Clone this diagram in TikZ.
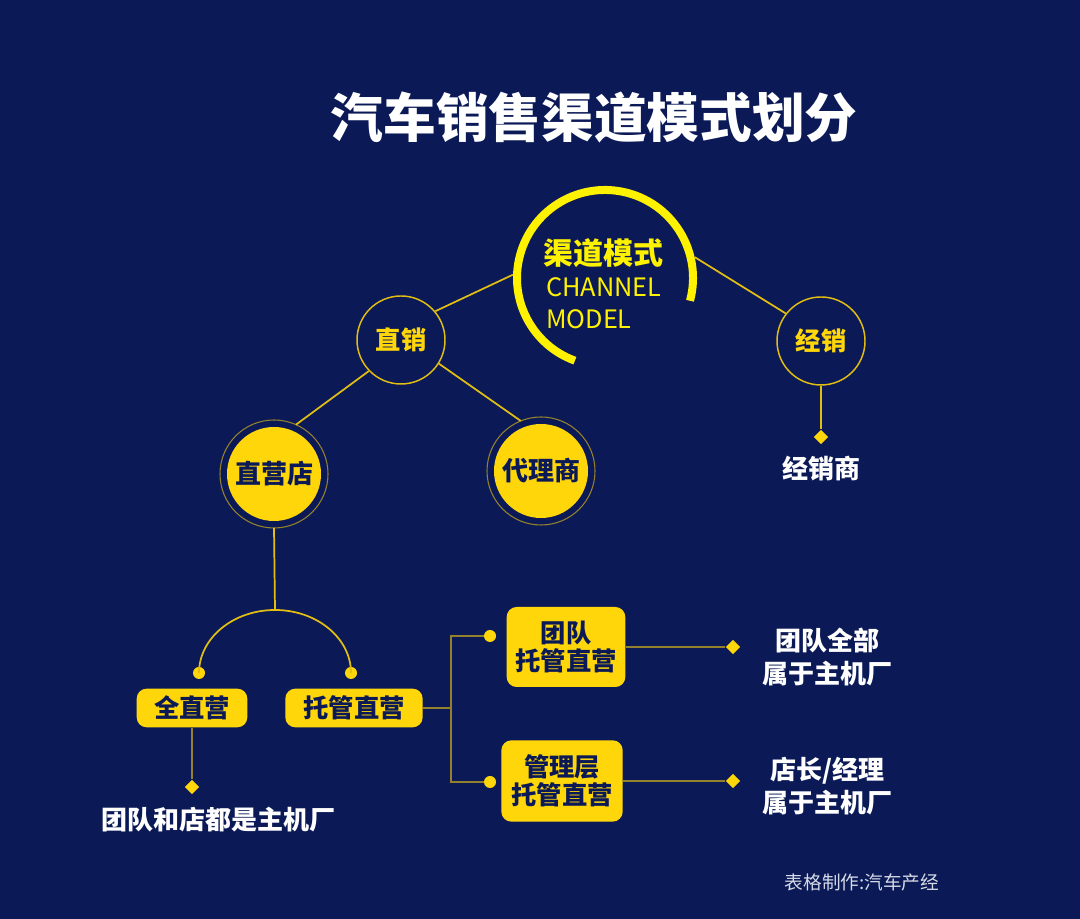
\documentclass[tikz,border=0pt]{standalone}
\usepackage{fontspec}
\usetikzlibrary{shapes.geometric}
\newfontfamily\cjk{Noto Sans CJK SC}
\definecolor{navy}{HTML}{0B1A57}
\definecolor{gold}{HTML}{FFD60A}
\definecolor{lemon}{HTML}{FFF200}
\definecolor{linegold}{HTML}{E2BE12}
\definecolor{olive}{HTML}{93812C}
\definecolor{footgray}{HTML}{D6DAE6}
\tikzset{
  ring/.style={circle, draw=linegold, line width=1.1pt, fill=navy, minimum size=66pt, inner sep=0pt,
    text=gold, font=\cjk\bfseries\fontsize{19pt}{22pt}\selectfont},
  disc/.style={circle, fill=gold, minimum size=70.5pt, inner sep=0pt, outer sep=5.25pt,
    text=navy, font=\cjk\bfseries\fontsize{19.5pt}{22pt}\selectfont},
  halo/.style={draw=olive, line width=0.8pt},
  tag/.style={rectangle, rounded corners=7.5pt, fill=gold, inner sep=0pt, align=center,
    text=navy, font=\cjk\bfseries\fontsize{19pt}{21pt}\selectfont},
  note/.style={align=center, text=white, font=\cjk\bfseries\fontsize{19.5pt}{25pt}\selectfont},
  dot/.style={circle, fill=gold, minimum size=9pt, inner sep=0pt},
  tip/.style={diamond, fill=gold, minimum size=11pt, inner sep=0pt},
  link/.style={draw=linegold, line width=1.3pt},
  thinlink/.style={draw=olive, line width=1.1pt}
}
\begin{document}
\begin{tikzpicture}[x=0.75pt, y=0.75pt]
  \fill[navy] (0,0) rectangle (1080,919);
  \useasboundingbox (0,0) rectangle (1080,919);

  % title
  \node[text=white, font=\cjk\bfseries\fontsize{39.5pt}{44pt}\selectfont] (title) at (594,801) {汽车销售渠道模式划分};

  % centre: channel model
  \node[circle, minimum size=138pt, inner sep=0pt] (moshi) at (605,641) {};
  \draw[lemon, line width=6pt] (moshi.center) ++(-15:88) arc[start angle=-15, end angle=250, radius=88];
  \node[text=lemon, font=\cjk\bfseries\fontsize{22.5pt}{26pt}\selectfont] (qudao) at (603,666) {渠道模式};
  \node[anchor=west, inner sep=0pt, text=lemon, font=\cjk\fontsize{19pt}{20pt}\selectfont] (channel) at (546,632) {CHANNEL};
  \node[anchor=west, inner sep=0pt, text=lemon, font=\cjk\fontsize{19pt}{20pt}\selectfont] (model) at (546,600) {MODEL};

  % first level
  \node[ring] (zhixiao) at (401,579) {直销};
  \node[ring] (jingxiao) at (821,578) {经销};
  \draw[link] (zhixiao.40) -- (moshi.178);
  \draw[link] (moshi.13) -- (jingxiao.142);

  % second level
  \node[disc] (zhiying) at (274,445) {直营店};
  \node[disc] (daili) at (541,448) {代理商};
  \draw[halo] (zhiying.center) circle[radius=54];
  \draw[halo] (daili.center) circle[radius=54];
  \draw[link] (zhixiao.224) -- (zhiying.66);
  \draw[link] (zhixiao.-32) -- (daili.112);

  % dealer
  \node[tip] (jxtip) at (821,482) {};
  \node[note] (jxs) at (821,450) {经销商};
  \draw[link] (jingxiao.south) -- (jxtip);

  % fork under the direct store
  \coordinate (fork) at (275,309);
  \draw[link] (zhiying.south) -- (fork);
  \node[dot] (ldot) at (199,246) {};
  \node[dot] (rdot) at (351,246) {};
  \draw[link] (ldot.center) arc[start angle=180, end angle=0, x radius=76, y radius=63];

  \node[tag, minimum width=83pt, minimum height=29pt] (quan) at (192,211) {全直营};
  \node[tag, minimum width=103pt, minimum height=29pt] (tuoguan) at (354,211) {托管直营};

  \node[tip] (qtip) at (192,132) {};
  \node[note] (qnote) at (218,99) {团队和店都是主机厂};
  \draw[thinlink] (quan.south) -- (qtip);

  % managed branches
  \coordinate (bus) at (451,211);
  \node[dot] (tdot) at (490,283) {};
  \node[dot] (bdot) at (490,137) {};
  \draw[thinlink] (tuoguan.east) -- (bus);
  \draw[thinlink] (tdot) -| (bus) |- (bdot);

  \node[tag, minimum width=89pt, minimum height=60pt] (tuandui) at (566,272) {团队\\托管直营};
  \node[tag, minimum width=91pt, minimum height=61pt] (guanli) at (562,138) {管理层\\托管直营};

  \node[tip] (ttip) at (733,272) {};
  \node[tip] (gtip) at (733,138) {};
  \draw[thinlink] (tuandui.east) -- (ttip);
  \draw[thinlink] (guanli.east) -- (gtip);
  \node[note] (tnote) at (827,262) {团队全部\\属于主机厂};
  \node[note] (gnote) at (827,133) {店长/经理\\属于主机厂};

  % footer
  \node[text=footgray, font=\cjk\fontsize{14pt}{16pt}\selectfont] (foot) at (862,37) {表格制作:汽车产经};
\end{tikzpicture}
\end{document}
